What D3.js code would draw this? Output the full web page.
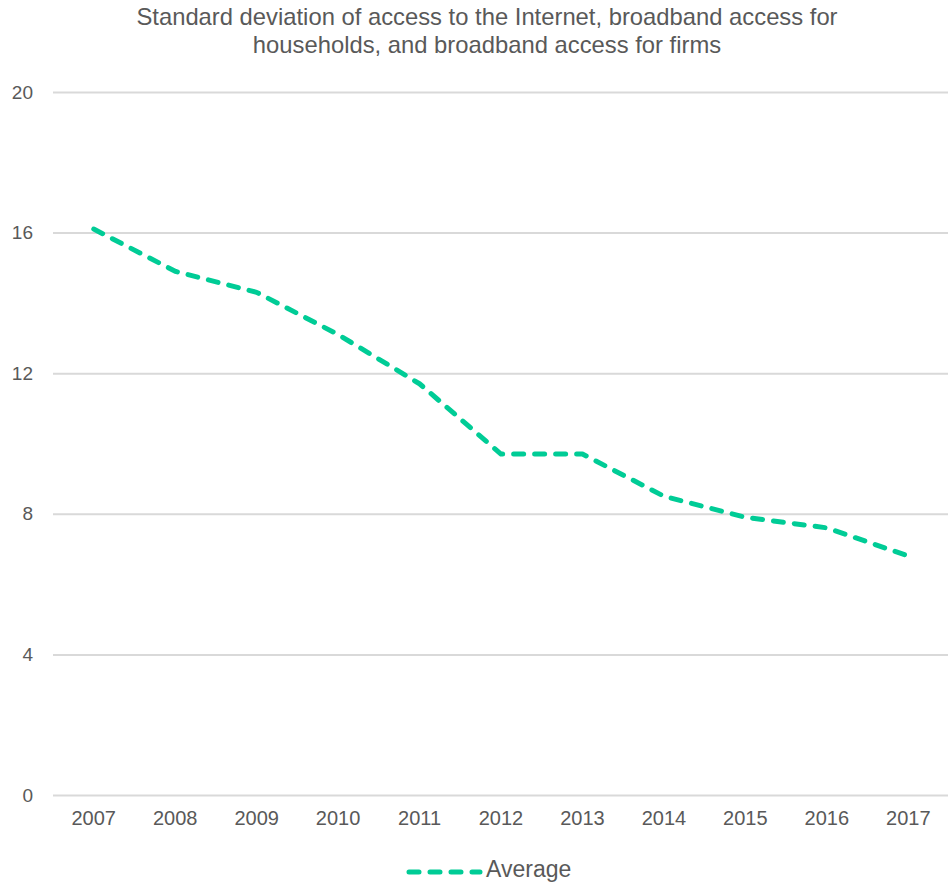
<!DOCTYPE html>
<html>
<head>
<meta charset="utf-8">
<script src="https://cdn.jsdelivr.net/npm/d3@7"></script>
<style>
  body { margin: 0; background: #fff; }
  text { font-family: "Liberation Sans", Arial, sans-serif; fill: #595959; }
</style>
</head>
<body>
<div id="chart-area"></div>
<script>
var years = ["2007", "2008", "2009", "2010", "2011", "2012", "2013", "2014", "2015", "2016", "2017"];
var average = [16.1, 14.9, 14.3, 13.1, 11.7, 9.7, 9.7, 8.5, 7.9, 7.6, 6.8];
var yTicks = [0, 4, 8, 12, 16, 20];
var titleLines = ["Standard deviation of access to the Internet, broadband access for",
                  "households, and broadband access for firms"];

var W = 948, H = 883;
var margin = { left: 53, right: -1, top: 92, bottom: 88 };
var width = W - margin.left - margin.right,
    height = H - margin.top - margin.bottom;

var svg = d3.select("#chart-area")
    .append("svg")
        .attr("width", W)
        .attr("height", H);

// Title
svg.append("text")
    .attr("x", 487)
    .attr("y", 25)
    .attr("font-size", "23.8px")
    .attr("text-anchor", "middle")
    .selectAll("tspan")
    .data(titleLines)
    .enter()
    .append("tspan")
        .attr("x", 487)
        .attr("dy", function(d, i){ return i === 0 ? 0 : 28; })
        .text(function(d){ return d; });

var g = svg.append("g")
    .attr("transform", "translate(" + margin.left + ", " + margin.top + ")");

var x = d3.scaleBand()
    .domain(years)
    .range([0, width]);

var y = d3.scaleLinear()
    .domain([0, 20])
    .range([height, 0]);

// Gridlines + y labels
var yAxisCall = d3.axisLeft(y)
    .tickValues(yTicks)
    .tickSize(-width)
    .tickPadding(20);
var yAxis = g.append("g")
    .attr("class", "y-axis")
    .call(yAxisCall);
yAxis.select(".domain").remove();
yAxis.selectAll(".tick line")
    .attr("stroke", "#d9d9d9")
    .attr("stroke-width", 2);
yAxis.selectAll(".tick text")
    .attr("font-size", "19px")
    .attr("fill", "#595959");

// X axis
var xAxisCall = d3.axisBottom(x).tickSize(0).tickPadding(16);
var xAxis = g.append("g")
    .attr("class", "x axis")
    .attr("transform", "translate(0, " + height + ")")
    .call(xAxisCall);
xAxis.select(".domain").remove();
xAxis.selectAll(".tick text")
    .attr("font-size", "20px")
    .attr("fill", "#595959");

// Line
var line = d3.line()
    .x(function(d, i){ return x(years[i]) + x.bandwidth() / 2; })
    .y(function(d){ return y(d); });

g.append("path")
    .datum(average)
    .attr("d", line)
    .attr("fill", "none")
    .attr("stroke", "#00cc96")
    .attr("stroke-width", 5)
    .attr("stroke-linejoin", "round")
    .attr("stroke-linecap", "round")
    .attr("stroke-dasharray", "10,11");

// Legend
var legend = svg.append("g")
    .attr("transform", "translate(409, 872)");
legend.append("line")
    .attr("x1", 0)
    .attr("x2", 71)
    .attr("y1", 0)
    .attr("y2", 0)
    .attr("stroke", "#00cc96")
    .attr("stroke-width", 5)
    .attr("stroke-linecap", "round")
    .attr("stroke-dasharray", "10,11");
legend.append("text")
    .attr("x", 77)
    .attr("y", 5)
    .attr("font-size", "23px")
    .text("Average");
</script>
</body>
</html>
